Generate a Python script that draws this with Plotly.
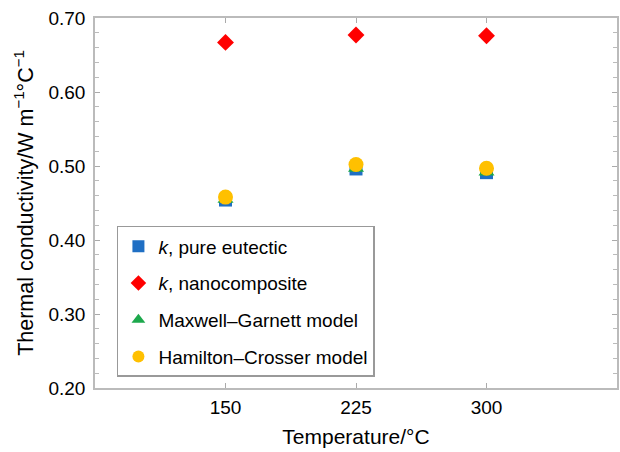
import plotly.graph_objects as go

temps = [150, 225, 300]
k_pure = [0.454, 0.496, 0.491]
k_nano = [0.667, 0.677, 0.676]
maxwell = [0.455, 0.497, 0.492]
hamilton = [0.458, 0.502, 0.497]

names = ["<i>k</i>, pure eutectic", "<i>k</i>, nanocomposite",
         "Maxwell–Garnett model", "Hamilton–Crosser model"]
series = [k_pure, k_nano, maxwell, hamilton]
symbols = ["square", "diamond", "triangle-up", "circle"]
colors = ["#1f6fc4", "#ff0000", "#1da84c", "#ffc000"]
sizes = [13, 13, 14, 15]

fig = go.Figure()
for i in range(4):
    fig.add_trace(go.Scatter(
        x=temps, y=series[i], mode="markers", name=names[i],
        legendgroup=str(i),
        marker=dict(symbol=symbols[i], color=colors[i], size=sizes[i], line=dict(width=0)),
    ))

fig.update_layout(
    width=620, height=452,
    margin=dict(l=95, r=3, t=18, b=64),
    paper_bgcolor="white", plot_bgcolor="white",
    font=dict(family="Liberation Sans, Arial, sans-serif", size=18, color="black"),
    showlegend=True,
    legend=dict(x=0.042, y=0.438, xanchor="left", yanchor="top",
                bordercolor="#999999", borderwidth=1.5, bgcolor="white",
                font=dict(size=19), tracegroupgap=9, itemsizing="constant", itemwidth=30),
)
fig.update_xaxes(range=[75, 375], tickvals=temps, ticktext=["150", "225", "300"],
                 automargin=False,
                 showgrid=False, zeroline=False, showline=True, linecolor="#bbbbbb",
                 linewidth=1.5, mirror="ticks", ticks="inside", ticklen=5, tickcolor="#aaaaaa",
                 tickfont=dict(size=19), ticklabelstandoff=1,
                 title=dict(text="Temperature/°C", font=dict(size=21), standoff=13))
fig.update_yaxes(range=[0.20, 0.70], dtick=0.1, tickformat=".2f",
                 automargin=False,
                 showgrid=False, zeroline=False, showline=True, linecolor="#bbbbbb",
                 linewidth=1.5, mirror="ticks", ticks="inside", ticklen=5, tickcolor="#aaaaaa",
                 minor=dict(dtick=0.02, ticks="inside", ticklen=4, tickcolor="#bbbbbb"),
                 tickfont=dict(size=19), ticklabelstandoff=4,
                 title=dict(text="Thermal conductivity/W m<sup>−1</sup>°C<sup>−1</sup>",
                            font=dict(size=21.5), standoff=9))

fig.write_html("out.html", config={"displayModeBar": False},
               post_script="document.body.style.margin='0px';document.body.style.overflow='hidden';")
